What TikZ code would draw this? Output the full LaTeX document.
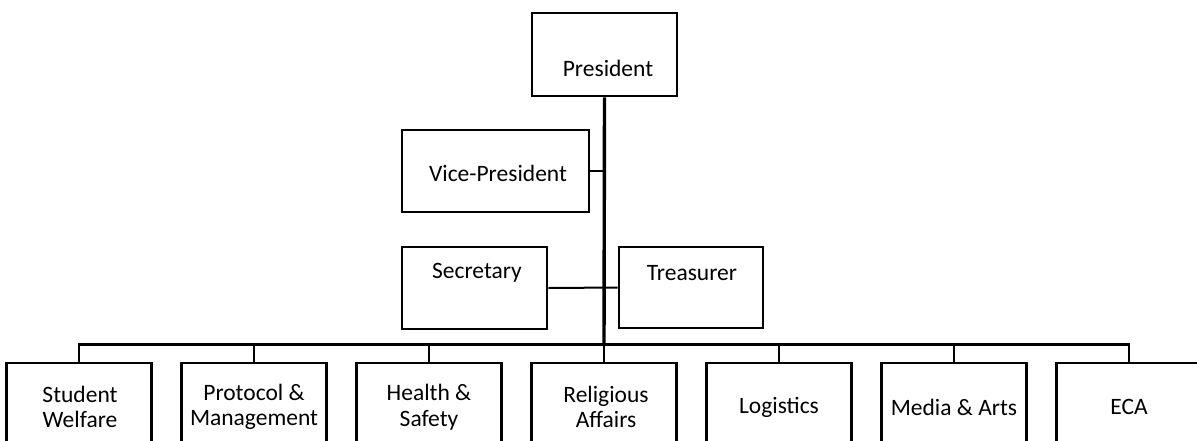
\documentclass[tikz,border=0pt]{standalone}
\usepackage{fontspec}
\setmainfont{Carlito}
\begin{document}
\begin{tikzpicture}[x=1pt,y=-1pt,
  box/.style={draw, line width=2.6pt, rectangle, inner sep=0pt},
  lbl/.style={font=\fontsize{23.5}{25.5}\selectfont, align=center, inner sep=0pt},
  conn/.style={line width=2.6pt},
  mainline/.style={line width=3.4pt},
  thinconn/.style={line width=2pt}]
\useasboundingbox (0,0) rectangle (1197,440);
\clip (0,0) rectangle (1197,440);
% top boxes
\node[box, minimum width=145, minimum height=83] (pres) at (604.5,54.5) {};
\node[lbl] (presl) at (608,68) {President};
\node[box, minimum width=187, minimum height=82] (vp) at (495.5,171) {};
\node[lbl] (vpl) at (498,173) {Vice-President};
\node[box, minimum width=145, minimum height=82] (sec) at (474.5,288) {};
\node[lbl] (secl) at (477,273) {Secretary};
\node[box, minimum width=144, minimum height=81] (tre) at (691,287.5) {};
\node[lbl] (trel) at (692,273) {Treasurer};
% bottom boxes
\foreach \i/\x in {1/79,2/254,3/429,4/604,5/779,6/954,7/1129}{
  \node[box, minimum width=145, minimum height=97] (b\i) at (\x,411.5) {};
}
\node[lbl] (l1) at (80,407) {Student\\Welfare};
\node[lbl] (l2) at (254,407) {Protocol \&\\Management};
\node[lbl] (l3) at (429,407) {Health \&\\Safety};
\node[lbl] (l4) at (606,407) {Religious\\Affairs};
\node[lbl] (l5) at (779,407) {Logistics};
\node[lbl] (l6) at (954,407) {Media \& Arts};
\node[lbl] (l7) at (1129,407) {ECA};
% connectors
\coordinate (bus) at (604,346);
\draw[mainline] (pres.south) -- (bus);
\draw[conn] (vp.east) -- (vp.east -| pres.south);
\draw[thinconn] (sec.east) -- (tre.west);
\draw[conn] (b1.north) -- ++(0,-17) -| (b7.north);
\foreach \i in {2,3,4,5,6}{
  \draw[conn] (b\i.north) -- ++(0,-17);
}
\end{tikzpicture}
\end{document}
